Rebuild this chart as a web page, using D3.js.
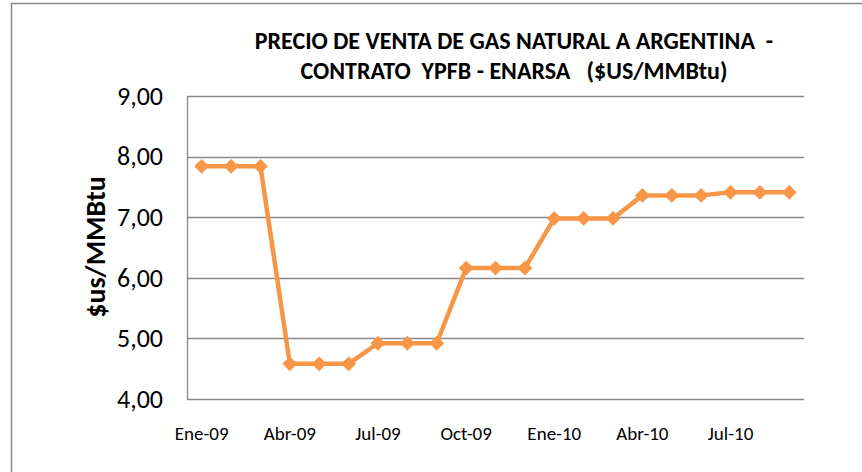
<!DOCTYPE html>
<html><head><meta charset="utf-8">
<script src="https://cdn.jsdelivr.net/npm/d3@7"></script>
<style>body{margin:0;background:#fff}svg{display:block}text{font-family:Carlito,Lato,"Open Sans",sans-serif}</style>
</head><body><svg id="c" width="862" height="472"></svg>
<script>
const months = ["Ene-09","Feb-09","Mar-09","Abr-09","May-09","Jun-09","Jul-09","Ago-09","Sep-09","Oct-09","Nov-09","Dic-09","Ene-10","Feb-10","Mar-10","Abr-10","May-10","Jun-10","Jul-10","Ago-10","Sep-10"];
const prices = [7.84,7.84,7.84,4.58,4.58,4.58,4.92,4.92,4.92,6.16,6.16,6.16,6.98,6.98,6.98,7.36,7.36,7.36,7.41,7.41,7.41];
const yTicks = [4,5,6,7,8,9];
const xTickLabels = ["Ene-09","Abr-09","Jul-09","Oct-09","Ene-10","Abr-10","Jul-10"];
const titleLines = ["PRECIO DE VENTA DE GAS NATURAL A ARGENTINA  -","CONTRATO  YPFB - ENARSA   ($US/MMBtu)"];
const yTitle = "$us/MMBtu";

const svg = d3.select("#c");
const L=187,R=804,T=96,B=399;
const x = d3.scaleBand().domain(months).range([L,R]);
const y = d3.scaleLinear().domain([4,9]).range([B,T]);
const gray="#898989", orange="#F79646";
const ff="Carlito,Lato,'Open Sans',sans-serif";

svg.append("path").attr("d","M11.5,480 V3.5 H870").attr("fill","none").attr("stroke",gray).attr("stroke-width",1.5);

svg.append("g").selectAll("line").data(yTicks.filter(d=>d>4)).join("line")
  .attr("x1",L).attr("x2",R).attr("y1",d=>Math.round(y(d))+0.5).attr("y2",d=>Math.round(y(d))+0.5)
  .attr("stroke",gray).attr("stroke-width",1.3);

const ya = svg.append("g").attr("transform",`translate(${L},0)`)
  .call(d3.axisLeft(y).tickValues(yTicks).tickSize(0).tickPadding(24).tickFormat(d=>d3.format(".2f")(d).replace(".",",")));
ya.select(".domain").attr("stroke",gray).attr("stroke-width",1.3);
ya.selectAll("text").attr("font-size",26).attr("fill","#000").style("font-family",ff);

const xa = svg.append("g").attr("transform",`translate(0,${B})`)
  .call(d3.axisBottom(x).tickValues(months.filter(m=>xTickLabels.includes(m))).tickSize(0).tickPadding(28).tickFormat(d=>d));
xa.select(".domain").attr("stroke",gray).attr("stroke-width",1.3).attr("d",`M${L},0.5H${R}`);
xa.selectAll("text").attr("font-size",19).attr("fill","#000").style("font-family",ff);

const cx = m=>x(m)+x.bandwidth()/2;
svg.append("path").datum(months.map((m,i)=>[cx(m),y(prices[i])]))
  .attr("d",d3.line()).attr("fill","none").attr("stroke",orange).attr("stroke-width",4.5).attr("stroke-linejoin","round");
svg.append("g").selectAll("path").data(months).join("path")
  .attr("d",d3.symbol(d3.symbolSquare,110)).attr("transform",(m,i)=>`translate(${cx(m)},${y(prices[i])}) rotate(45)`)
  .attr("fill",orange);

svg.append("g").selectAll("text").data(titleLines).join("text")
  .attr("x",514).attr("y",(d,i)=>49+i*30).attr("text-anchor","middle")
  .attr("font-size",24).attr("font-weight","bold").attr("fill","#000").style("white-space","pre").text(d=>d);

svg.append("text").attr("transform","translate(105,247) rotate(-90)").attr("text-anchor","middle")
  .attr("font-size",28).attr("font-weight","bold").attr("fill","#000").text(yTitle);
</script></body></html>
